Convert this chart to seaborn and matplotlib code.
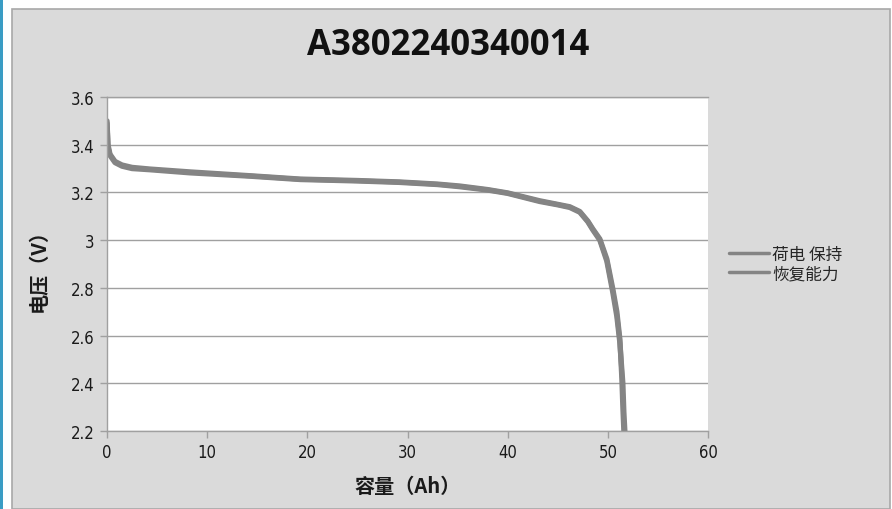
import matplotlib
matplotlib.use("Agg")
import matplotlib.pyplot as plt
from matplotlib.patches import Rectangle
import seaborn as sns
import pandas as pd

# ---- data ----
series_names = ["荷电 保持", "恢复能力"]
cap_a = [0.0, 0.05, 0.1, 0.3, 0.8, 1.5, 2.5, 4.3, 8.3, 14.3, 19.3, 25.0, 29.2, 33.0, 35.2,
         38.0, 40.0, 43.2, 45.0, 46.2, 47.2, 48.0, 48.5, 49.2, 49.9, 50.5, 50.9, 51.2,
         51.4, 51.5, 51.6]
volt_a = [3.50, 3.45, 3.40, 3.36, 3.33, 3.315, 3.305, 3.298, 3.286, 3.27, 3.256, 3.25, 3.244,
          3.235, 3.227, 3.212, 3.198, 3.165, 3.15, 3.14, 3.12, 3.08, 3.047, 3.005, 2.921,
          2.795, 2.70, 2.586, 2.42, 2.30, 2.20]
cap_b = [0.0, 0.05, 0.1, 0.3, 0.8, 1.5, 2.5, 4.3, 8.3, 14.3, 19.3, 25.0, 29.2, 33.0, 35.2,
         38.0, 40.0, 43.2, 45.0, 46.2, 47.2, 48.0, 48.5, 49.2, 49.9, 50.5, 50.9, 51.2,
         51.5, 51.6, 51.7]
volt_b = [3.49, 3.44, 3.39, 3.355, 3.325, 3.31, 3.30, 3.295, 3.282, 3.268, 3.254, 3.248, 3.242,
          3.233, 3.224, 3.21, 3.196, 3.162, 3.148, 3.137, 3.117, 3.077, 3.043, 3.0, 2.912,
          2.78, 2.68, 2.57, 2.40, 2.28, 2.20]
title = "A3802240340014"
x_label = "容量（Ah）"
y_label = "电压（V）"
x_ticks = [0, 10, 20, 30, 40, 50, 60]
y_ticks = [2.2, 2.4, 2.6, 2.8, 3.0, 3.2, 3.4, 3.6]
y_tick_labels = ["2.2", "2.4", "2.6", "2.8", "3", "3.2", "3.4", "3.6"]

df = pd.DataFrame({
    "capacity": cap_a + cap_b,
    "voltage": volt_a + volt_b,
    "series": [series_names[0]] * len(cap_a) + [series_names[1]] * len(cap_b),
})

sns.set_theme(style="white")
plt.rcParams["font.family"] = ["Noto Sans CJK SC", "DejaVu Sans"]

fig = plt.figure(figsize=(8.92, 5.10), dpi=100)
fig.patch.set_facecolor("white")

# gray chart panel and blue left edge
fig.patches.append(Rectangle((12 / 892, 0), (890 - 12) / 892, 1 - 10 / 510,
                             transform=fig.transFigure, facecolor="#dadada",
                             edgecolor="#a8a8a8", linewidth=1.2, zorder=-2))
fig.patches.append(Rectangle((0, 0), 2.5 / 892, 1, transform=fig.transFigure,
                             facecolor="#3a9cc4", edgecolor="none", zorder=-2))

ax = fig.add_axes([107 / 892, 1 - 432 / 510, (708 - 107) / 892, (432 - 98) / 510])
ax.set_zorder(2)
ax.set_facecolor("white")

sns.lineplot(data=df, x="capacity", y="voltage", hue="series", sort=False,
             palette=["#848484", "#848484"], linewidth=3.8, ax=ax, estimator=None)

ax.set_xlim(0, 60)
ax.set_ylim(2.2, 3.6)
ax.set_xticks(x_ticks)
ax.set_yticks(y_ticks)
ax.set_yticklabels(y_tick_labels)
ax.yaxis.grid(True, color="#a0a0a0", linewidth=1.0)
ax.xaxis.grid(False)
ax.spines["right"].set_visible(False)
for s in ["left", "bottom", "top"]:
    ax.spines[s].set_color("#a0a0a0")
    ax.spines[s].set_linewidth(1.0)
ax.tick_params(axis="both", which="both", direction="out", length=5, width=1,
               color="#a0a0a0", labelsize=12, labelcolor="#1a1a1a", pad=4,
               left=True, bottom=True)
for lab in ax.get_xticklabels() + ax.get_yticklabels():
    lab.set_family(["Liberation Sans Narrow", "DejaVu Sans"])
    lab.set_stretch("condensed")

ax.set_xlabel(x_label, fontsize=14.5, fontweight="bold", labelpad=10, color="#1a1a1a")
ax.set_ylabel(y_label, fontsize=14.5, fontweight="bold", labelpad=16, color="#1a1a1a")

fig.text(448 / 892, 1 - 46 / 510, title, ha="center", va="center", fontsize=25,
         fontweight="bold", family=["Open Sans", "DejaVu Sans"], color="#111111")

leg = ax.legend(loc="center left", bbox_to_anchor=(1.035, 0.5), frameon=False,
                fontsize=12, handlelength=2.4, handletextpad=0.2, labelspacing=0.15,
                borderpad=0, borderaxespad=0)
for line in leg.get_lines():
    line.set_linewidth(2.5)

fig.savefig("out.png", dpi=100)
